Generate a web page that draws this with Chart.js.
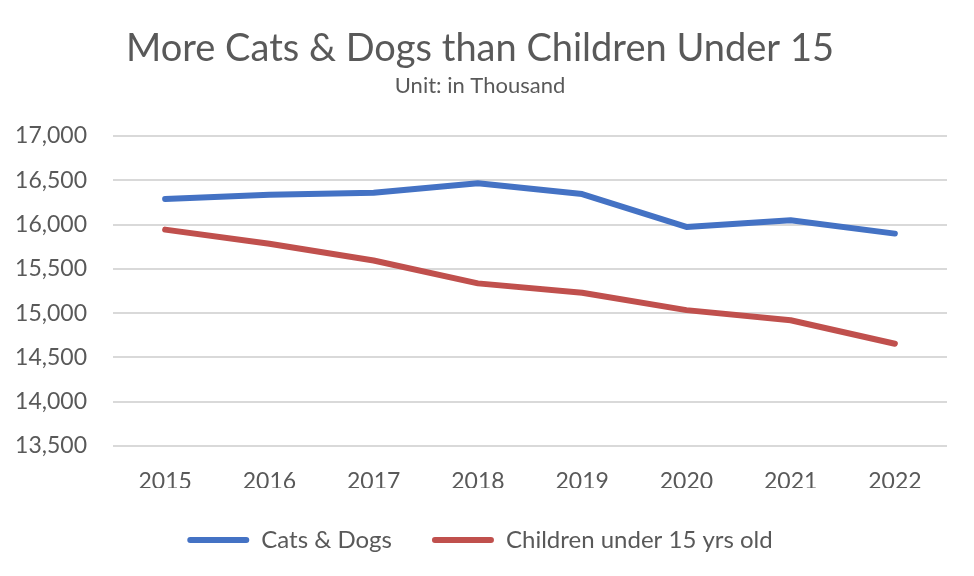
<!DOCTYPE html>
<html>
<head>
<meta charset="utf-8">
<script src="https://cdn.jsdelivr.net/npm/chart.js@4"></script>
<style>
  body { margin: 0; background: #fff; }
  #wrap { width: 974px; height: 576px; position: relative; }
</style>
</head>
<body>
<div id="wrap"><canvas id="myChart"></canvas></div>
<script>
const years = ['2015', '2016', '2017', '2018', '2019', '2020', '2021', '2022'];
const catsDogs = [16290, 16336, 16359, 16466, 16344, 15973, 16049, 15898];
const children = [15943, 15784, 15594, 15336, 15231, 15034, 14920, 14655];
const yTicks = [13500, 14000, 14500, 15000, 15500, 16000, 16500, 17000];

const gray = '#595959';
const font = "Lato, 'Open Sans', sans-serif";

const data = {
  labels: years,
  datasets: [{
    label: 'Cats & Dogs',
    data: catsDogs,
    borderColor: '#4472C4',
    backgroundColor: '#4472C4',
    borderWidth: 6,
    pointRadius: 0,
    tension: 0,
    borderCapStyle: 'round',
    borderJoinStyle: 'round'
  }, {
    label: 'Children under 15 yrs old',
    data: children,
    borderColor: '#C0504D',
    backgroundColor: '#C0504D',
    borderWidth: 6,
    pointRadius: 0,
    tension: 0,
    borderCapStyle: 'round',
    borderJoinStyle: 'round'
  }]
};

const config = {
  type: 'line',
  data: data,
  options: {
    responsive: true,
    maintainAspectRatio: false,
    animation: false,
    layout: { padding: { left: 13, right: 27, top: 0, bottom: 14 } },
    plugins: {
      title: {
        display: true,
        text: 'More Cats & Dogs than Children Under 15',
        color: gray,
        font: { family: font, size: 38, weight: 'normal' },
        padding: { top: 26, bottom: 0 }
      },
      subtitle: {
        display: true,
        text: 'Unit: in Thousand',
        color: gray,
        font: { family: font, size: 22, weight: 'normal' },
        padding: { top: 1, bottom: 37 }
      },
      legend: {
        position: 'bottom',
        labels: {
          color: gray,
          font: { family: font, size: 24 },
          boxWidth: 62,
          boxHeight: 6,
          padding: 40,
          useBorderRadius: true,
          borderRadius: 3,
          generateLabels: function(chart) {
            const items = Chart.defaults.plugins.legend.labels.generateLabels(chart);
            items.forEach(function(it) { it.lineWidth = 0; });
            return items;
          }
        }
      },
      tooltip: { enabled: false }
    },
    scales: {
      x: {
        offset: true,
        afterFit: function(axis) { axis.height = 42; },
        grid: { display: false },
        border: { display: false },
        ticks: {
          color: gray,
          font: { family: font, size: 23 },
          padding: 14
        }
      },
      y: {
        min: yTicks[0],
        max: yTicks[yTicks.length - 1],
        afterBuildTicks: function(axis) {
          axis.ticks = yTicks.map(function(v) { return { value: v }; });
        },
        afterFit: function(axis) { axis.width = 100; },
        grid: { color: '#D9D9D9', lineWidth: 2, drawTicks: false },
        border: { display: false },
        ticks: {
          color: gray,
          font: { family: font, size: 23 },
          padding: 26,
          callback: function(v) { return v.toLocaleString('en-US'); }
        }
      }
    }
  }
};

var myChart = new Chart(document.getElementById('myChart'), config);
</script>
</body>
</html>
